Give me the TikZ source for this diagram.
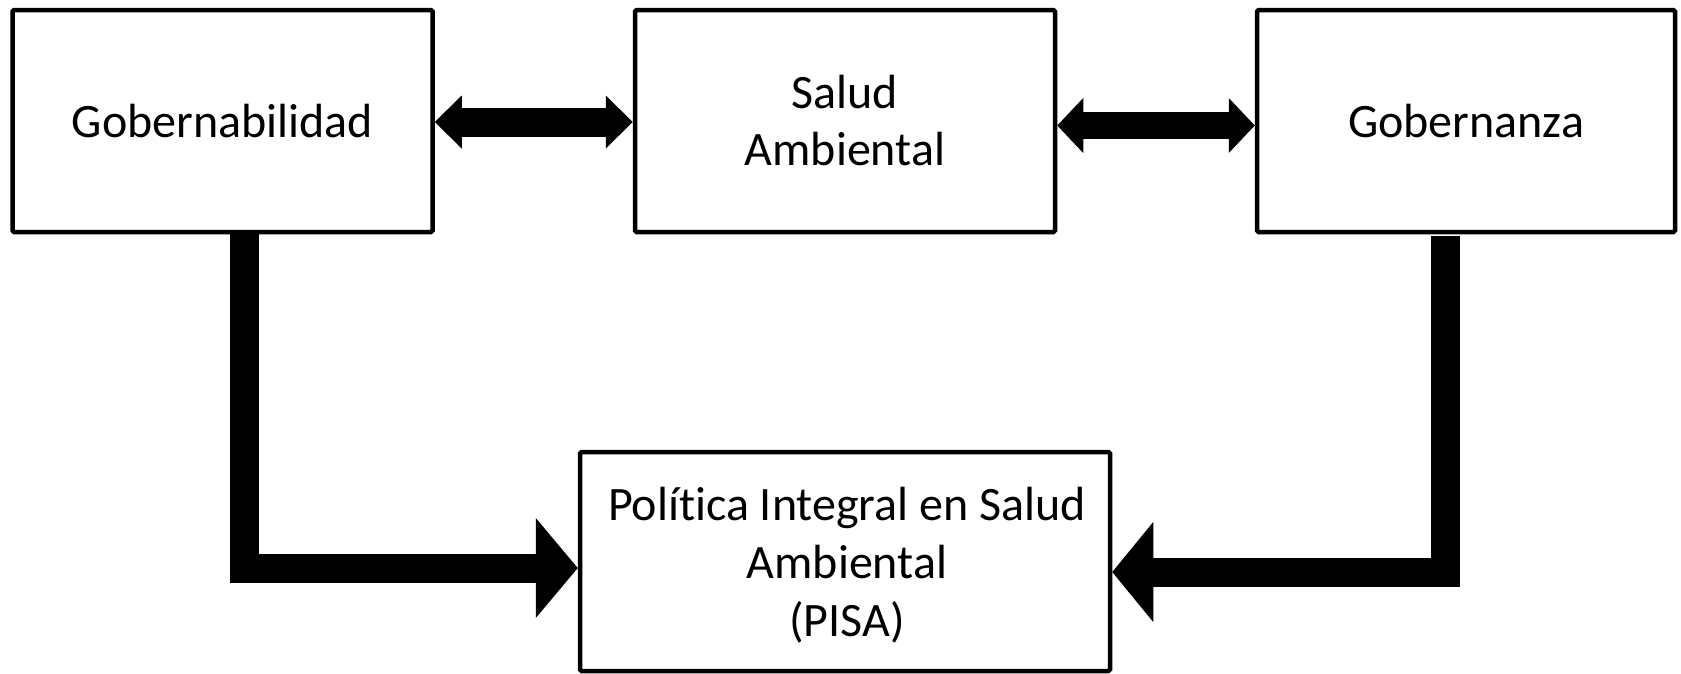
\documentclass[tikz,border=0pt]{standalone}
\usepackage{fontspec}
\setmainfont[Ligatures=NoCommon]{Carlito}
\usetikzlibrary{arrows.meta,calc}
\begin{document}
\begin{tikzpicture}[x=1pt,y=-1pt,
  box/.style={draw=black,line width=4.5pt,rounded corners=1.5pt,fill=white,inner sep=0pt,
    align=center,font=\fontsize{48}{57}\selectfont}
]
\useasboundingbox (0,0) rectangle (1681,673);
\node[box,minimum width=420pt,minimum height=222pt] (g1) at (222.5,121) {Gobernabilidad};
\node[box,minimum width=420pt,minimum height=222pt] (sa) at (845,121) {Salud\\Ambiental};
\node[box,minimum width=418pt,minimum height=222pt] (gz) at (1466,121) {Gobernanza};
\node[box,minimum width=530pt,minimum height=219pt] (pisa) at (845,561.5) {};
\node[align=center,inner sep=0pt,font=\fontsize{48}{58}\selectfont] (pisat) at ($(pisa.center)+(2,4)$) {Política Integral en Salud\\Ambiental\\(PISA)};
% double arrows
\draw[line width=29pt,
  {Triangle[width=53pt,length=27pt,line width=0pt]}-{Triangle[width=53pt,length=27pt,line width=0pt]}]
  ($(g1.east)+(0,1)$) -- ($(sa.west)+(0,1)$);
\draw[line width=27pt,
  {Triangle[width=55pt,length=26pt,line width=0pt]}-{Triangle[width=55pt,length=26pt,line width=0pt]}]
  ($(sa.east)+(0,4.5)$) -- ($(gz.west)+(0,4.5)$);
% elbow arrows
\draw[line width=29pt,line join=miter,-{Triangle[width=100pt,length=42pt,line width=0pt]}]
  ($(g1.south)+(22,-1)$) |- ($(pisa.west)+(0,6.5)$);
\draw[line width=29pt,line join=miter,-{Triangle[width=100pt,length=41pt,line width=0pt]}]
  ($(gz.south)+(-20.5,2)$) |- ($(pisa.east)+(0,10.5)$);
\end{tikzpicture}
\end{document}
